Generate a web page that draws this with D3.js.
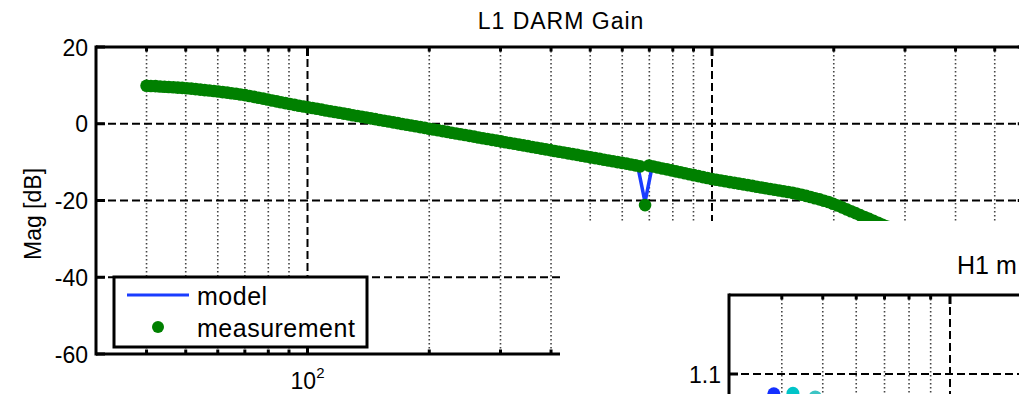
<!DOCTYPE html>
<html>
<head>
<meta charset="utf-8">
<script src="https://d3js.org/d3.v7.min.js"></script>
<style>
  body { margin: 0; background: #fff; }
  text { font-family: "Liberation Sans", Arial, Helvetica, sans-serif; fill: #000; }
</style>
</head>
<body>
<svg id="chart" width="1019" height="394"></svg>
<script>
// measurement, L1 DARM gain (Hz, dB)
var measFreq = [40.0,41.0,42.1,43.2,44.3,45.4,46.6,47.8,49.0,50.3,
  51.6,52.9,54.3,55.7,57.2,58.7,60.2,61.7,63.3,64.9,
  66.6,68.3,70.1,71.9,73.8,75.7,77.7,79.7,81.8,83.9,
  86.0,88.2,90.5,92.9,95.3,97.8,100.3,102.9,105.5,108.3,
  111.1,114.0,116.9,119.9,123.0,126.2,129.5,132.9,136.3,139.8,
  143.4,147.1,150.9,154.8,158.8,163.0,167.2,171.5,176.0,180.5,
  185.2,190.0,194.9,199.9,205.1,210.4,215.9,221.5,227.2,233.1,
  239.1,245.3,251.6,258.1,264.8,271.6,278.6,285.9,293.3,300.9,
  308.6,316.6,324.8,333.2,341.8,350.6,359.7,369.0,378.5,388.3,
  398.4,408.7,419.2,430.1,441.2,452.6,464.3,476.3,488.6,501.2,
  514.2,527.5,541.1,555.1,569.5,584.2,599.3,614.8,630.7,647.0,
  663.8,683.2,698.6,716.7,735.2,754.2,773.7,793.9,814.7,835.8,
  857.5,879.7,902.4,925.8,949.8,974.3,999.5,1025,1052,1079,
  1107,1136,1165,1195,1226,1258,1290,1324,1358,1393,
  1429,1466,1504,1543,1583,1624,1666,1709,1753,1798,
  1845,1893,1942,1992,2044,2097,2151,2207,2264,2323,
  2383,2445,2508,2573,2639,2707,2777,2849,2923]
var measMag = [9.9,9.85,9.8,9.72,9.65,9.57,9.5,9.42,9.35,9.25,
  9.15,9.02,8.9,8.77,8.65,8.52,8.4,8.25,8.1,7.95,
  7.8,7.62,7.45,7.22,7.0,6.77,6.55,6.3,6.05,5.82,
  5.6,5.37,5.15,4.92,4.7,4.5,4.3,4.1,3.89,3.68,
  3.47,3.26,3.06,2.85,2.65,2.44,2.23,2.02,1.82,1.61,
  1.40,1.2,0.99,0.78,0.57,0.36,0.16,-0.05,-0.25,-0.46,
  -0.67,-0.87,-1.08,-1.29,-1.50,-1.7,-1.91,-2.12,-2.33,-2.53,
  -2.74,-2.95,-3.15,-3.36,-3.57,-3.77,-3.98,-4.19,-4.40,-4.6,
  -4.81,-5.02,-5.22,-5.43,-5.64,-5.84,-6.05,-6.26,-6.47,-6.67,
  -6.88,-7.09,-7.30,-7.5,-7.71,-7.92,-8.12,-8.33,-8.54,-8.75,
  -8.95,-9.16,-9.37,-9.57,-9.78,-9.99,-10.2,-10.4,-10.6,-10.85,
  -11.1,-21.2,-10.9,-11.15,-11.4,-11.65,-11.9,-12.15,-12.4,-12.65,
  -12.9,-13.15,-13.4,-13.65,-13.9,-14.15,-14.4,-14.6,-14.8,-15.0,
  -15.2,-15.4,-15.6,-15.8,-16.0,-16.2,-16.4,-16.6,-16.8,-17.0,
  -17.2,-17.4,-17.6,-17.8,-18.0,-18.25,-18.5,-18.8,-19.1,-19.4,
  -19.7,-20.05,-20.4,-20.85,-21.3,-21.8,-22.3,-22.8,-23.3,-23.8,
  -24.3,-24.8,-25.3,-25.8,-26.3,-26.8,-27.3,-27.8,-28.3]

// model (Hz, dB)
var modelFreq = [40,50,60,70,80,90,100,150,200,300,400,500,600,655,683,712,800,1000,1500,1800,2000,2500,3000]
var modelMag = [9.9,9.2,8.4,7.5,6.3,5.2,4.3,0.99,-1.34,-4.6,-6.94,-8.74,-10.2,-11.0,-20.4,-10.9,-12.2,-14.4,-17.6,-19.4,-20.9,-25.2,-28.6]

// axis ticks
var xMajor = [100, 1000]
var xMinor = [40,50,60,70,80,90,200,300,400,500,600,700,800,900,2000,3000,4000,5000]
var yTicks = [20, 0, -20, -40, -60]
var yGrid = [0, -20, -40]

// second figure (H1), partly visible
var h1Freq = [38.3, 42.5, 48.0]
var h1Val = [1.0875, 1.0878, 1.0855]
var h1Colors = ["#1430ff", "#00c4c8", "#3cc4c4"]
var h1Major = [100]
var h1Minor = [40,50,60,70,80,90]
var h1YTicks = [1.1]

var svg = d3.select("#chart")
var x = d3.scaleLog().domain([30, 1000]).range([96, 712])
var y = d3.scaleLinear().domain([-60, 20]).range([354, 47])
var xEnd = 6000

var grid = svg.append("g")
grid.selectAll(".minor").data(xMinor).enter().append("line")
  .attr("x1", function (d) { return x(d) }).attr("x2", function (d) { return x(d) })
  .attr("y1", y(20)).attr("y2", y(-60))
  .style("stroke", "#444").style("stroke-width", 1.6).style("stroke-dasharray", "1.6,2.4")
grid.selectAll(".major").data(xMajor).enter().append("line")
  .attr("x1", function (d) { return x(d) }).attr("x2", function (d) { return x(d) })
  .attr("y1", y(20)).attr("y2", y(-60))
  .style("stroke", "#000").style("stroke-width", 2).style("stroke-dasharray", "8,4")
grid.selectAll(".hgrid").data(yGrid).enter().append("line")
  .attr("x1", x(30)).attr("x2", x(xEnd))
  .attr("y1", function (d) { return y(d) }).attr("y2", function (d) { return y(d) })
  .style("stroke", "#000").style("stroke-width", 2).style("stroke-dasharray", "8,4")

// model line
var line = d3.line()
  .x(function (d, i) { return x(modelFreq[i]) })
  .y(function (d) { return y(d) })
svg.append("path")
  .datum(modelMag)
  .attr("d", line)
  .style("fill", "none").style("stroke", "#1a3cff").style("stroke-width", 3.5)

// measurement dots
svg.append("g").selectAll("circle").data(measMag).enter().append("circle")
  .attr("cx", function (d, i) { return x(measFreq[i]) })
  .attr("cy", function (d) { return y(d) })
  .attr("r", 6.3)
  .style("fill", "#008000")

// axes box and ticks
var ax = svg.append("g").style("stroke", "#000")
ax.append("line").attr("x1", x(30)).attr("x2", x(xEnd)).attr("y1", y(20)).attr("y2", y(20)).style("stroke-width", 3)
ax.append("line").attr("x1", x(30)).attr("x2", x(xEnd)).attr("y1", y(-60)).attr("y2", y(-60)).style("stroke-width", 3)
ax.append("line").attr("x1", x(30)).attr("x2", x(30)).attr("y1", y(20) - 1.5).attr("y2", y(-60) + 1.5).style("stroke-width", 3)
ax.append("line").attr("x1", x(xEnd)).attr("x2", x(xEnd)).attr("y1", y(20)).attr("y2", y(-60)).style("stroke-width", 3)

function xTicks(vals, len) {
  ax.selectAll(null).data(vals).enter().append("line")
    .attr("x1", function (d) { return x(d) }).attr("x2", function (d) { return x(d) })
    .attr("y1", y(20)).attr("y2", y(20) + len).style("stroke-width", 3)
  ax.selectAll(null).data(vals).enter().append("line")
    .attr("x1", function (d) { return x(d) }).attr("x2", function (d) { return x(d) })
    .attr("y1", y(-60)).attr("y2", y(-60) - len).style("stroke-width", 3)
}
xTicks(xMajor, 9)
xTicks(xMinor, 4.5)
ax.selectAll(null).data(yTicks).enter().append("line")
  .attr("x1", x(30)).attr("x2", x(30) + 9)
  .attr("y1", function (d) { return y(d) }).attr("y2", function (d) { return y(d) }).style("stroke-width", 3)
ax.selectAll(null).data(yTicks).enter().append("line")
  .attr("x1", x(xEnd)).attr("x2", x(xEnd) - 9)
  .attr("y1", function (d) { return y(d) }).attr("y2", function (d) { return y(d) }).style("stroke-width", 3)

svg.append("g").selectAll("text").data(yTicks).enter().append("text")
  .attr("x", 88).attr("y", function (d) { return y(d) + 8.5 })
  .attr("text-anchor", "end").style("font-size", "23px")
  .text(function (d) { return d })

var xl = svg.append("text").attr("x", x(100)).attr("y", 389)
  .attr("text-anchor", "middle").style("font-size", "23px")
xl.append("tspan").text("10")
xl.append("tspan").attr("dy", -11).style("font-size", "15px").text("2")

svg.append("text")
  .attr("transform", "translate(41,214)rotate(-90)")
  .attr("text-anchor", "middle").style("font-size", "23px")
  .text("Mag [dB]")

svg.append("text").attr("x", 561).attr("y", 29)
  .attr("text-anchor", "middle").style("font-size", "23px").style("letter-spacing", "1px")
  .text("L1 DARM Gain")

// legend
var lg = svg.append("g")
lg.append("rect").attr("x", 114).attr("y", 277).attr("width", 253).attr("height", 70)
  .style("fill", "#fff").style("stroke", "#000").style("stroke-width", 3)
lg.append("line").attr("x1", 127).attr("x2", 189).attr("y1", 295).attr("y2", 295)
  .style("stroke", "#1a3cff").style("stroke-width", 3)
lg.append("circle").attr("cx", 158).attr("cy", 327).attr("r", 6).style("fill", "#008000")
lg.append("text").attr("x", 197).attr("y", 305).style("font-size", "25px").style("letter-spacing", "0.5px").text("model")
lg.append("text").attr("x", 197).attr("y", 337).style("font-size", "25px").style("letter-spacing", "0.5px").text("measurement")

// second figure window lying over the first one
svg.append("rect").attr("x", 560).attr("y", 221).attr("width", 459).attr("height", 173).style("fill", "#fff")

var x2 = d3.scaleLog().domain([30, 100]).range([729, 950])
var y2 = d3.scaleLinear().domain([1.05, 1.15]).range([453, 295])
var f2 = svg.append("g")

f2.selectAll(".m2").data(h1Minor).enter().append("line")
  .attr("x1", function (d) { return x2(d) }).attr("x2", function (d) { return x2(d) })
  .attr("y1", y2(1.15)).attr("y2", 394)
  .style("stroke", "#444").style("stroke-width", 1.6).style("stroke-dasharray", "1.6,2.4")
f2.selectAll(".M2").data(h1Major).enter().append("line")
  .attr("x1", function (d) { return x2(d) }).attr("x2", function (d) { return x2(d) })
  .attr("y1", y2(1.15)).attr("y2", 394)
  .style("stroke", "#000").style("stroke-width", 2).style("stroke-dasharray", "8,4")
f2.selectAll(".h2").data(h1YTicks).enter().append("line")
  .attr("x1", x2(30)).attr("x2", 1019)
  .attr("y1", function (d) { return y2(d) }).attr("y2", function (d) { return y2(d) })
  .style("stroke", "#000").style("stroke-width", 2).style("stroke-dasharray", "8,4")

f2.selectAll("circle").data(h1Val).enter().append("circle")
  .attr("cx", function (d, i) { return x2(h1Freq[i]) })
  .attr("cy", function (d) { return y2(d) })
  .attr("r", 6.5)
  .style("fill", function (d, i) { return h1Colors[i] })

f2.append("line").attr("x1", x2(30)).attr("x2", 1019).attr("y1", y2(1.15)).attr("y2", y2(1.15))
  .style("stroke", "#000").style("stroke-width", 3)
f2.append("line").attr("x1", x2(30)).attr("x2", x2(30)).attr("y1", y2(1.15) - 1.5).attr("y2", 394)
  .style("stroke", "#000").style("stroke-width", 3)
f2.selectAll(".t2").data(h1Major.concat(h1Minor)).enter().append("line")
  .attr("x1", function (d) { return x2(d) }).attr("x2", function (d) { return x2(d) })
  .attr("y1", y2(1.15)).attr("y2", function (d) { return y2(1.15) + (d == 100 ? 9 : 4.5) })
  .style("stroke", "#000").style("stroke-width", 3)
f2.selectAll(".yt2").data(h1YTicks).enter().append("line")
  .attr("x1", x2(30)).attr("x2", x2(30) + 9)
  .attr("y1", function (d) { return y2(d) }).attr("y2", function (d) { return y2(d) })
  .style("stroke", "#000").style("stroke-width", 3)
f2.selectAll("text").data(h1YTicks).enter().append("text")
  .attr("x", 721).attr("y", function (d) { return y2(d) + 8.5 })
  .attr("text-anchor", "end").style("font-size", "23px")
  .text(function (d) { return d })

f2.append("text").attr("x", 957).attr("y", 274).style("font-size", "25px").text("H1 m")
</script>
</body>
</html>
